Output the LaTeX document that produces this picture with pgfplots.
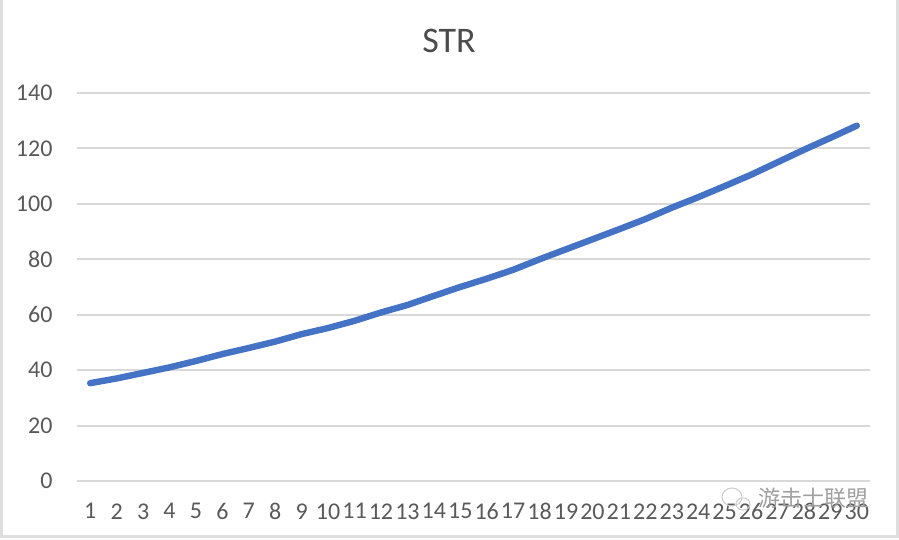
\documentclass[border=0pt]{standalone}
\usepackage{fontspec}
\setmainfont{Carlito}
\newfontfamily\cjk{Noto Sans CJK SC}
\usepackage{pgfplots}
\pgfplotsset{compat=1.18}
\definecolor{strblue}{HTML}{4472C4}
\definecolor{gridgray}{HTML}{D9D9D9}
\definecolor{ticktext}{HTML}{595959}
\definecolor{framegray}{HTML}{DEDEDE}
\begin{document}
\begin{tikzpicture}[x=1pt,y=1pt]
\useasboundingbox (-77,-59) rectangle (822,481);
\begin{axis}[
    at={(0pt,0pt)}, anchor=origin,
    scale only axis,
    width=793pt, height=388pt,
    xmin=0.5, xmax=30.5,
    ymin=0, ymax=140,
    xtick={1,...,30},
    ytick={0,20,...,140},
    ymajorgrids,
    grid style={gridgray, line width=2pt},
    axis line style={draw=none},
    tick style={draw=none},
    clip=false,
    /pgf/number format/assume math mode=true,
    ticklabel style={text=ticktext, font=\fontsize{24}{26}\selectfont},
    xticklabel style={yshift=-19pt, inner xsep=0pt},
    yticklabel style={xshift=-21pt},
]
\addplot[color=strblue, line width=6.4pt, line cap=round, line join=round]
    coordinates {
    (1,35.3) (2,37) (3,39) (4,41) (5,43.3) (6,45.8) (7,48) (8,50.3) (9,53) (10,55.2)
    (11,57.8) (12,60.8) (13,63.5) (14,66.8) (15,70) (16,73) (17,76.2) (18,80) (19,83.6) (20,87.2)
    (21,90.8) (22,94.5) (23,98.6) (24,102.4) (25,106.4) (26,110.5) (27,115) (28,119.5) (29,123.8) (30,128.2)
    };
\end{axis}
% picture frame and title
\draw[framegray, line width=3pt] (-75,-56) rectangle (820,483);
\node[text=ticktext!85!black, font=\fontsize{36}{38}\selectfont] at (372,440) {STR};
% watermark
\node[text=gray!75, font=\cjk\fontsize{22}{24}\selectfont, inner sep=0pt] at (736,-17) {游击士联盟};
\draw[gray!40, line width=1pt] (655,-16) ellipse (10pt and 9pt);
\draw[gray!40, line width=1pt] (666,-23) ellipse (7pt and 6pt);
\end{tikzpicture}
\end{document}
